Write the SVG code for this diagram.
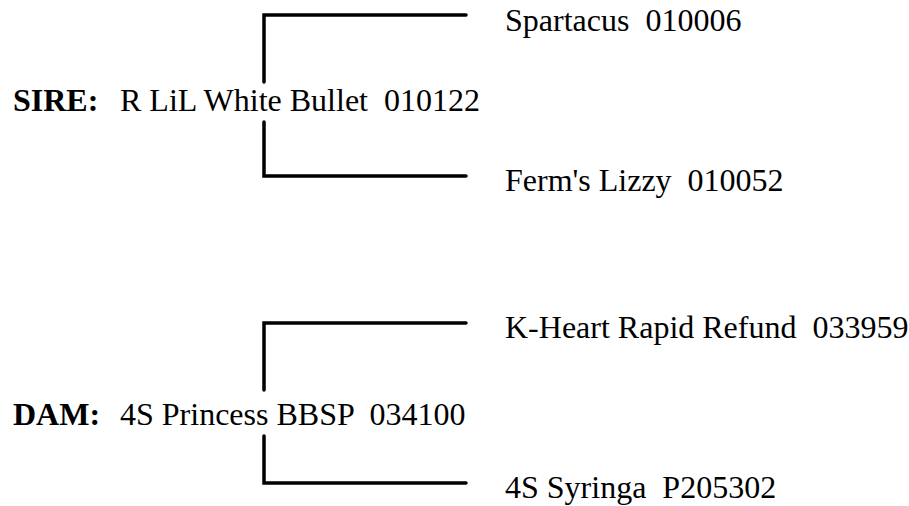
<svg xmlns="http://www.w3.org/2000/svg" width="909" height="506" viewBox="0 0 909 506">
<style>
.c{fill:none;stroke:#000;stroke-width:3.5;stroke-linecap:round;stroke-linejoin:miter}
</style>
<rect width="909" height="506" fill="#fff"/>
<g id="connectors">
<path class="c" d="M466,15 H264 V82"/>
<path class="c" d="M264,122 V176 H466"/>
<path class="c" d="M466,323 H264 V390"/>
<path class="c" d="M264,436 V483 H466"/>
</g>
<g font-family="Liberation Serif" font-size="32" fill="#000">
<g id="sire">
<text font-weight="bold" x="13" y="111">SIRE:</text>
<text xml:space="preserve" x="120" y="111">R LiL White Bullet  010122</text>
</g>
<g id="sire-sire"><text xml:space="preserve" x="505" y="31">Spartacus  010006</text></g>
<g id="sire-dam"><text xml:space="preserve" x="505" y="191">Ferm's Lizzy  010052</text></g>
<g id="dam">
<text font-weight="bold" x="13" y="425">DAM:</text>
<text xml:space="preserve" x="120" y="425">4S Princess BBSP  034100</text>
</g>
<g id="dam-sire"><text xml:space="preserve" x="505" y="338">K-Heart Rapid Refund  033959</text></g>
<g id="dam-dam"><text xml:space="preserve" x="505" y="498">4S Syringa  P205302</text></g>
</g>
</svg>
